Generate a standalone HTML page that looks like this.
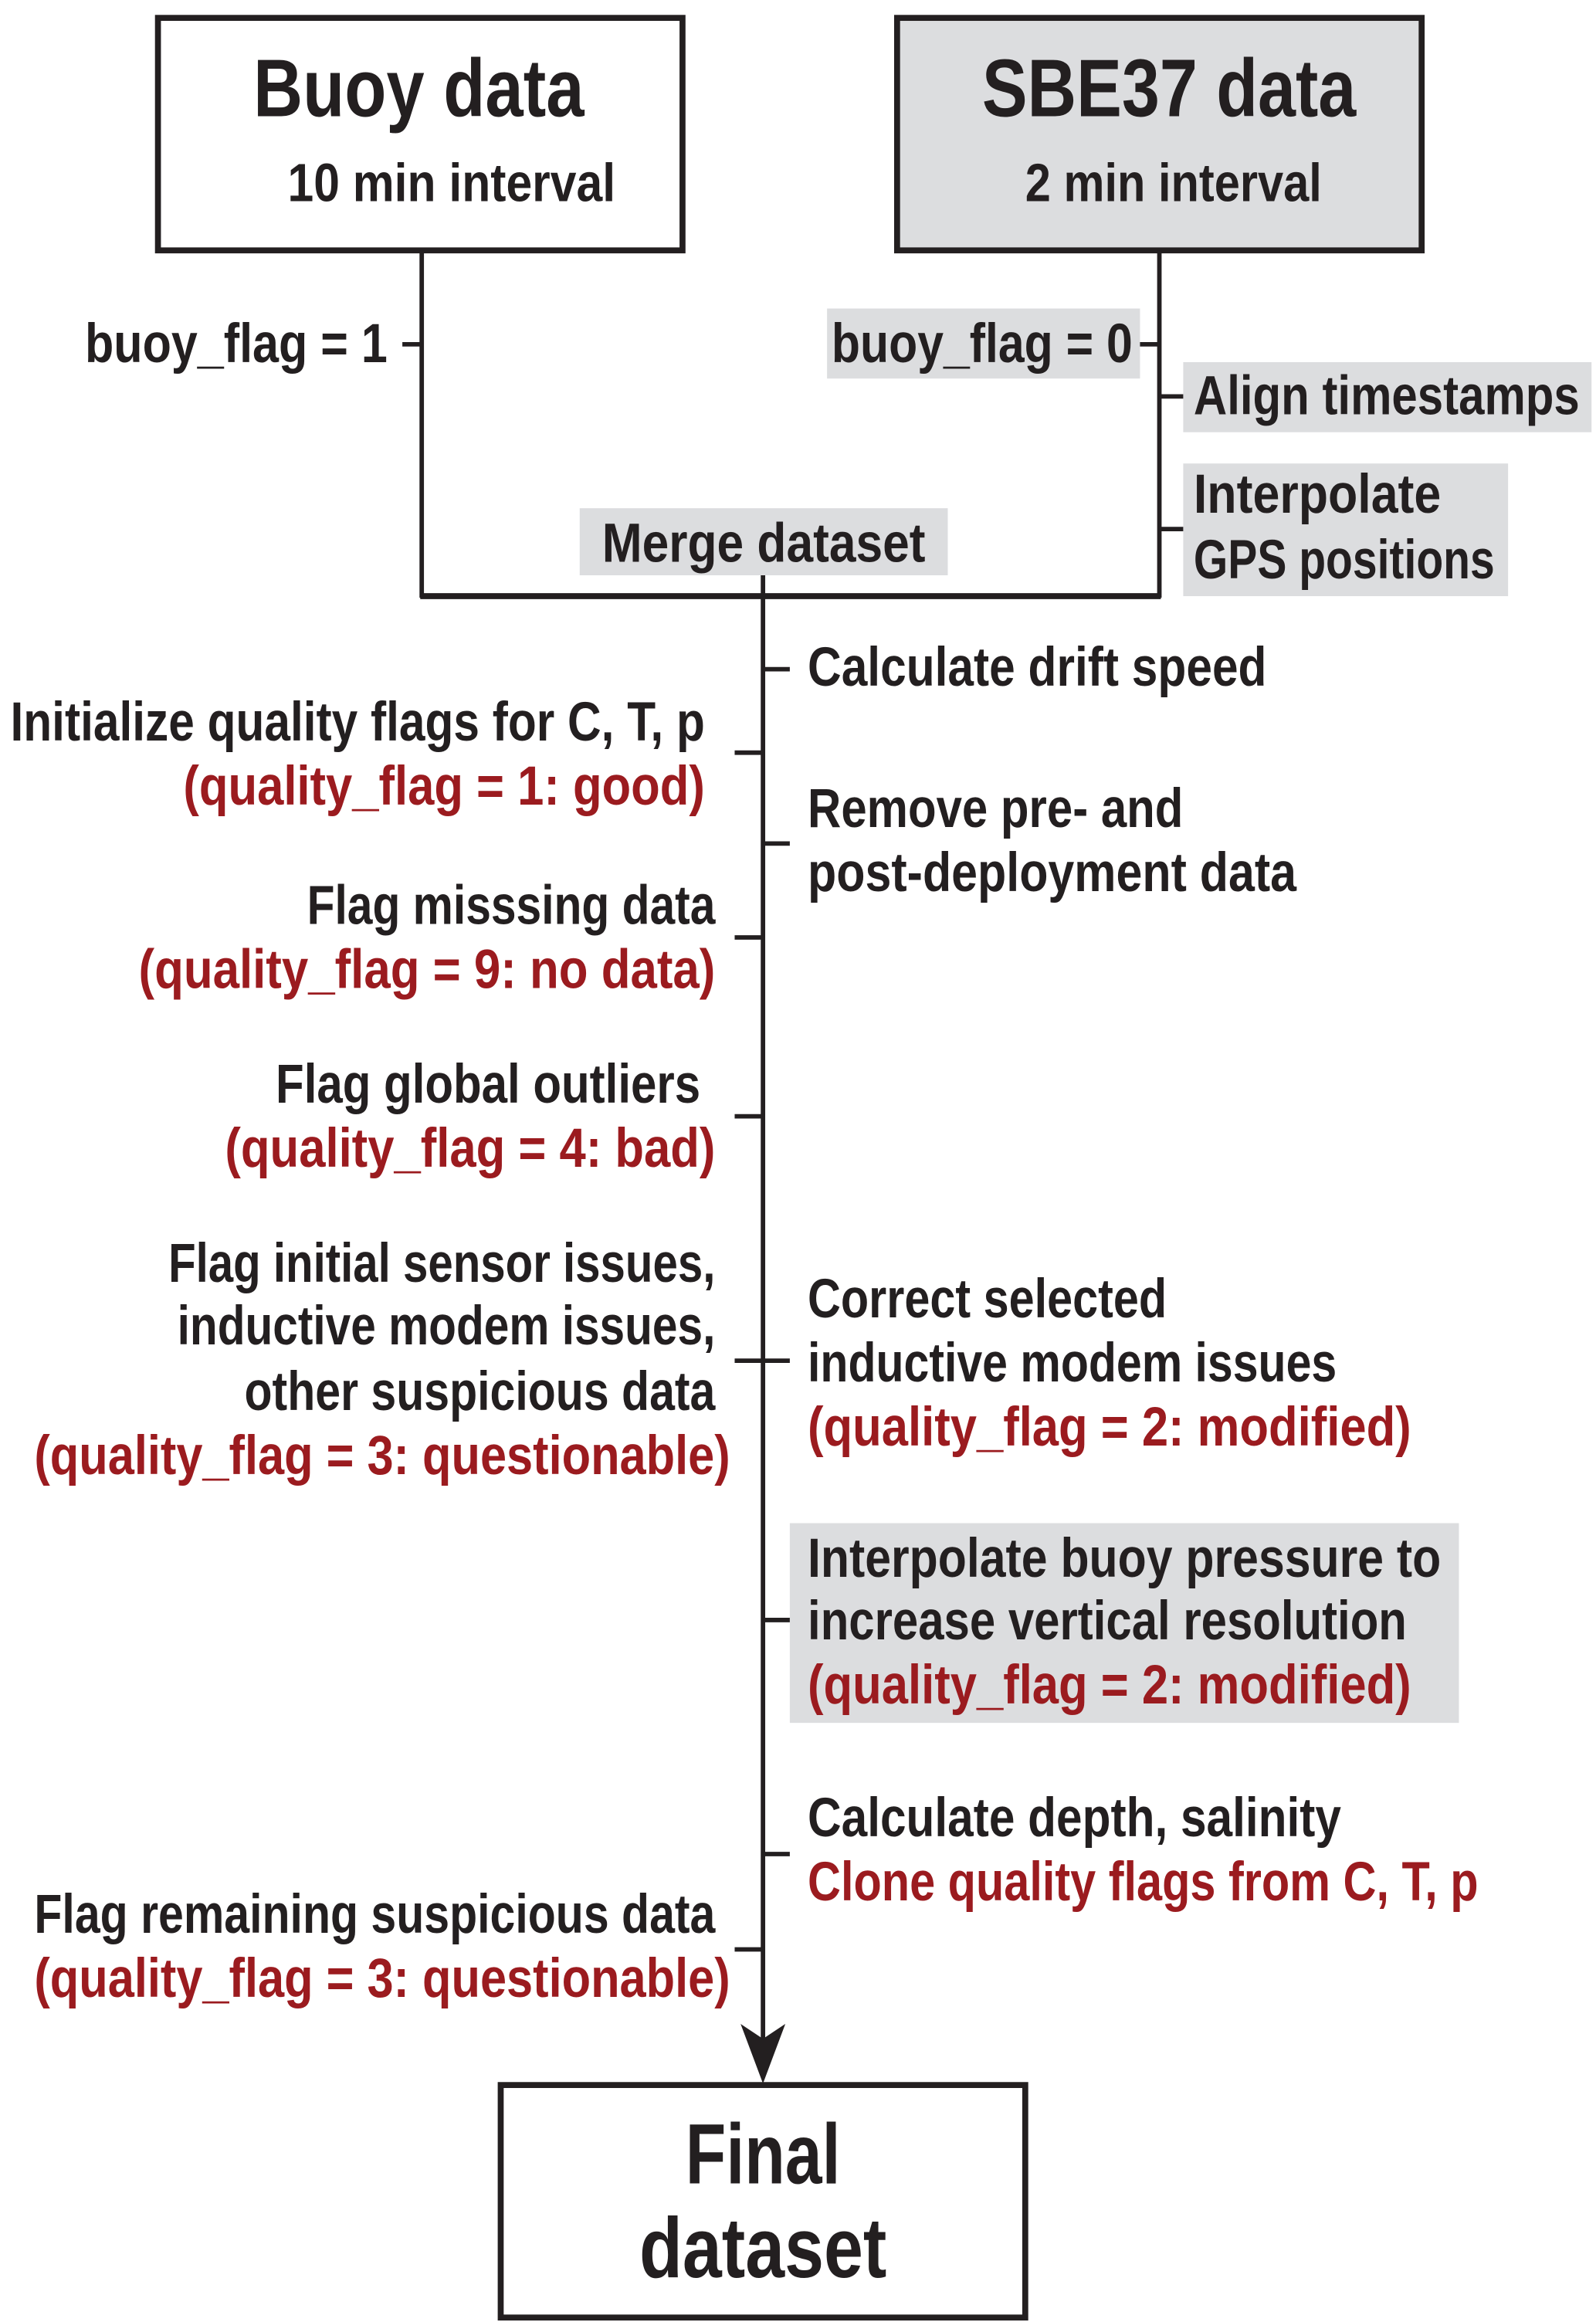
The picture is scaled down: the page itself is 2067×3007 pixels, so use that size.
<!DOCTYPE html>
<html><head><meta charset="utf-8"><style>
html,body{margin:0;padding:0;background:#fff;}
svg{display:block;}
text{font-family:"Liberation Sans Narrow","Liberation Sans",sans-serif;font-weight:bold;fill:#231f20;}
.r{fill:#9b1b1f;}
</style></head><body>
<svg width="2067" height="3007" viewBox="0 0 1071 1558" preserveAspectRatio="none" xmlns="http://www.w3.org/2000/svg">
<rect x="0" y="0" width="1071" height="1558" fill="#fff"/>
<rect x="106" y="12" width="352" height="156" fill="#fff" stroke="#231f20" stroke-width="4"/>
<rect x="602" y="12" width="352" height="156" fill="#dcdddf" stroke="#231f20" stroke-width="4"/>
<rect x="336" y="1399" width="352" height="156" fill="#fff" stroke="#231f20" stroke-width="4"/>
<rect x="555" y="207" width="210" height="47" fill="#dcdddf"/>
<rect x="794" y="243" width="274" height="47" fill="#dcdddf"/>
<rect x="794" y="311" width="218" height="89" fill="#dcdddf"/>
<rect x="389" y="341" width="247" height="45" fill="#dcdddf"/>
<rect x="530" y="1022" width="449" height="134" fill="#dcdddf"/>
<g stroke="#231f20" stroke-width="3" fill="none">
<line x1="283" y1="168" x2="283" y2="401"/>
<line x1="778" y1="168" x2="778" y2="401"/>
<line x1="282" y1="400" x2="779" y2="400" stroke-width="4"/>
<line x1="512" y1="386" x2="512" y2="1370"/>
<line x1="270" y1="231" x2="283" y2="231"/>
<line x1="765" y1="231" x2="778" y2="231"/>
<line x1="778" y1="266" x2="794" y2="266"/>
<line x1="778" y1="355" x2="794" y2="355"/>
<line x1="512" y1="449" x2="530" y2="449"/>
<line x1="512" y1="566" x2="530" y2="566"/>
<line x1="512" y1="913" x2="530" y2="913"/>
<line x1="512" y1="1087" x2="530" y2="1087"/>
<line x1="512" y1="1244" x2="530" y2="1244"/>
<line x1="493" y1="505" x2="512" y2="505"/>
<line x1="493" y1="629" x2="512" y2="629"/>
<line x1="493" y1="749" x2="512" y2="749"/>
<line x1="493" y1="913" x2="512" y2="913"/>
<line x1="493" y1="1308" x2="512" y2="1308"/>
</g>
<polygon points="497,1358 512,1368 527,1358 512,1398" fill="#231f20"/>
<text x="170" y="78" font-size="55" textLength="222" lengthAdjust="spacingAndGlyphs">Buoy data</text>
<text x="193" y="135" font-size="36" textLength="220" lengthAdjust="spacingAndGlyphs">10 min interval</text>
<text x="659" y="78" font-size="55" textLength="251" lengthAdjust="spacingAndGlyphs">SBE37 data</text>
<text x="688" y="135" font-size="36" textLength="199" lengthAdjust="spacingAndGlyphs">2 min interval</text>
<text x="460" y="1465" font-size="57" textLength="104" lengthAdjust="spacingAndGlyphs">Final</text>
<text x="429" y="1528" font-size="57" textLength="166" lengthAdjust="spacingAndGlyphs">dataset</text>
<g font-size="37">
<text x="57" y="243" textLength="203" lengthAdjust="spacingAndGlyphs">buoy_flag = 1</text>
<text x="558" y="243" textLength="202" lengthAdjust="spacingAndGlyphs">buoy_flag = 0</text>
<text x="801" y="278" textLength="259" lengthAdjust="spacingAndGlyphs">Align timestamps</text>
<text x="801" y="344" textLength="166" lengthAdjust="spacingAndGlyphs">Interpolate</text>
<text x="801" y="388" textLength="202" lengthAdjust="spacingAndGlyphs">GPS positions</text>
<text x="404" y="377" textLength="217" lengthAdjust="spacingAndGlyphs">Merge dataset</text>
<text x="542" y="460" textLength="308" lengthAdjust="spacingAndGlyphs">Calculate drift speed</text>
<text x="542" y="555" textLength="252" lengthAdjust="spacingAndGlyphs">Remove pre- and</text>
<text x="542" y="598" textLength="328" lengthAdjust="spacingAndGlyphs">post-deployment data</text>
<text x="542" y="884" textLength="241" lengthAdjust="spacingAndGlyphs">Correct selected</text>
<text x="542" y="927" textLength="355" lengthAdjust="spacingAndGlyphs">inductive modem issues</text>
<text class="r" x="542" y="970" textLength="405" lengthAdjust="spacingAndGlyphs">(quality_flag = 2: modified)</text>
<text x="542" y="1058" textLength="425" lengthAdjust="spacingAndGlyphs">Interpolate buoy pressure to</text>
<text x="542" y="1100" textLength="402" lengthAdjust="spacingAndGlyphs">increase vertical resolution</text>
<text class="r" x="542" y="1143" textLength="405" lengthAdjust="spacingAndGlyphs">(quality_flag = 2: modified)</text>
<text x="542" y="1232" textLength="358" lengthAdjust="spacingAndGlyphs">Calculate depth, salinity</text>
<text class="r" x="542" y="1275" textLength="450" lengthAdjust="spacingAndGlyphs">Clone quality flags from C, T, p</text>
<text x="7" y="497" textLength="466" lengthAdjust="spacingAndGlyphs">Initialize quality flags for C, T, p</text>
<text class="r" x="123" y="540" textLength="350" lengthAdjust="spacingAndGlyphs">(quality_flag = 1: good)</text>
<text x="206" y="620" textLength="274" lengthAdjust="spacingAndGlyphs">Flag misssing data</text>
<text class="r" x="93" y="663" textLength="387" lengthAdjust="spacingAndGlyphs">(quality_flag = 9: no data)</text>
<text x="185" y="740" textLength="285" lengthAdjust="spacingAndGlyphs">Flag global outliers</text>
<text class="r" x="151" y="783" textLength="329" lengthAdjust="spacingAndGlyphs">(quality_flag = 4: bad)</text>
<text x="113" y="860" textLength="367" lengthAdjust="spacingAndGlyphs">Flag initial sensor issues,</text>
<text x="119" y="902" textLength="361" lengthAdjust="spacingAndGlyphs">inductive modem issues,</text>
<text x="164" y="946" textLength="316" lengthAdjust="spacingAndGlyphs">other suspicious data</text>
<text class="r" x="23" y="989" textLength="467" lengthAdjust="spacingAndGlyphs">(quality_flag = 3: questionable)</text>
<text x="23" y="1297" textLength="457" lengthAdjust="spacingAndGlyphs">Flag remaining suspicious data</text>
<text class="r" x="23" y="1340" textLength="467" lengthAdjust="spacingAndGlyphs">(quality_flag = 3: questionable)</text>
</g>
</svg>
</body></html>
